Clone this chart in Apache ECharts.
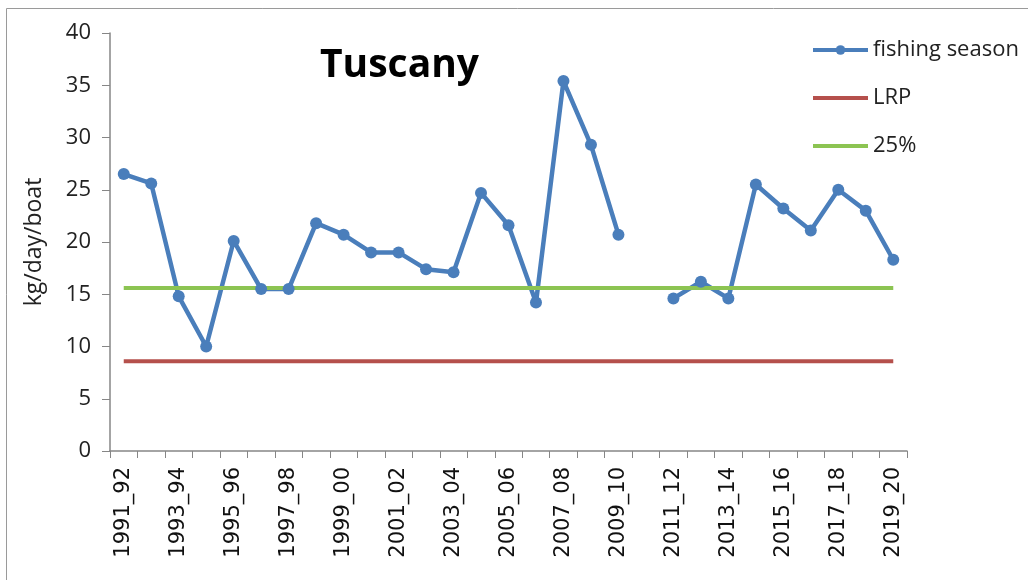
<!DOCTYPE html>
<html>
<head>
<meta charset="utf-8">
<script src="https://cdn.jsdelivr.net/npm/echarts@6/dist/echarts.min.js"></script>
<style>
  html, body { margin: 0; padding: 0; background: #fff; }
  #chart { width: 1028px; height: 580px; }
</style>
</head>
<body>
<div id="chart"></div>
<script>
// fishing seasons (x axis)
const seasons = [
  '1991_92', '1992_93', '1993_94', '1994_95', '1995_96', '1996_97', '1997_98', '1998_99',
  '1999_00', '2000_01', '2001_02', '2002_03', '2003_04', '2004_05', '2005_06', '2006_07',
  '2007_08', '2008_09', '2009_10', '2010_11', '2011_12', '2012_13', '2013_14', '2014_15',
  '2015_16', '2016_17', '2017_18', '2018_19', '2019_20'
];
// kg/day/boat, 2010_11 missing
const catchRate = [
  26.5, 25.6, 14.8, 10.0, 20.1, 15.5, 15.5, 21.8,
  20.7, 19.0, 19.0, 17.4, 17.1, 24.7, 21.6, 14.2,
  35.4, 29.3, 20.7, null, 14.6, 16.2, 14.6, 25.5,
  23.2, 21.1, 25.0, 23.0, 18.3
];
const lrpValue = 8.6;
const pct25Value = 15.6;
const lrp = seasons.map(() => lrpValue);
const pct25 = seasons.map(() => pct25Value);

const font = "'Open Sans', 'Noto Sans', sans-serif";
const blue = '#4A7EBB';
const red = '#B5504C';
const green = '#8CC452';
const chart = echarts.init(document.getElementById('chart'));

chart.setOption({
  animation: false,
  backgroundColor: '#fff',
  textStyle: { fontFamily: font },
  title: {
    text: 'Tuscany',
    left: 315,
    top: 41,
    textStyle: { fontSize: 39, fontWeight: 'bold', color: '#000', fontFamily: font }
  },
  legend: {
    orient: 'vertical',
    left: 806,
    top: 33,
    itemGap: 24,
    itemWidth: 55,
    itemHeight: 12,
    textStyle: { fontSize: 22, lineHeight: 24, color: '#222' },
    data: [
      { name: 'fishing season', lineStyle: { width: 4 } },
      // reference lines: no marker in the key
      { name: 'LRP', lineStyle: { width: 4 }, itemStyle: { opacity: 0 } },
      { name: '25%', lineStyle: { width: 4 }, itemStyle: { opacity: 0 } }
    ]
  },
  graphic: [{
    type: 'rect',
    shape: { x: 6.5, y: 8.5, width: 1040, height: 600 },
    style: { fill: 'none', stroke: '#9a9a9a', lineWidth: 1 },
    silent: true
  }],
  grid: { left: 110, right: 121, top: 33, bottom: 129 },
  xAxis: {
    type: 'category',
    data: seasons,
    boundaryGap: true,
    axisLine: { lineStyle: { color: '#868686', width: 1.5 } },
    axisTick: { show: true, interval: 0, length: 7, lineStyle: { color: '#868686' } },
    axisLabel: {
      interval: 1,
      rotate: 90,
      fontSize: 21,
      color: '#111',
      fontFamily: "'DejaVu Sans', sans-serif",
      margin: 16
    }
  },
  yAxis: {
    type: 'value',
    min: 0,
    max: 40,
    interval: 5,
    name: 'kg/day/boat',
    nameLocation: 'middle',
    nameGap: 64,
    nameTextStyle: { fontSize: 23, color: '#222' },
    axisLine: { show: true, lineStyle: { color: '#868686', width: 1.5 } },
    axisTick: { show: true, length: 8, lineStyle: { color: '#868686' } },
    axisLabel: { fontSize: 22, color: '#222', margin: 19 },
    splitLine: { show: false }
  },
  series: [
    {
      name: 'fishing season',
      type: 'line',
      data: catchRate,
      connectNulls: false,
      symbol: 'circle',
      symbolSize: 12,
      lineStyle: { width: 4.5, color: blue },
      itemStyle: { color: blue },
      z: 3
    },
    {
      name: 'LRP',
      type: 'line',
      data: lrp,
      symbol: 'none',
      lineStyle: { width: 4, color: red },
      itemStyle: { color: red }
    },
    {
      name: '25%',
      type: 'line',
      data: pct25,
      symbol: 'none',
      lineStyle: { width: 4, color: green },
      itemStyle: { color: green }
    }
  ]
});

window.addEventListener('resize', () => chart.resize());
</script>
</body>
</html>
